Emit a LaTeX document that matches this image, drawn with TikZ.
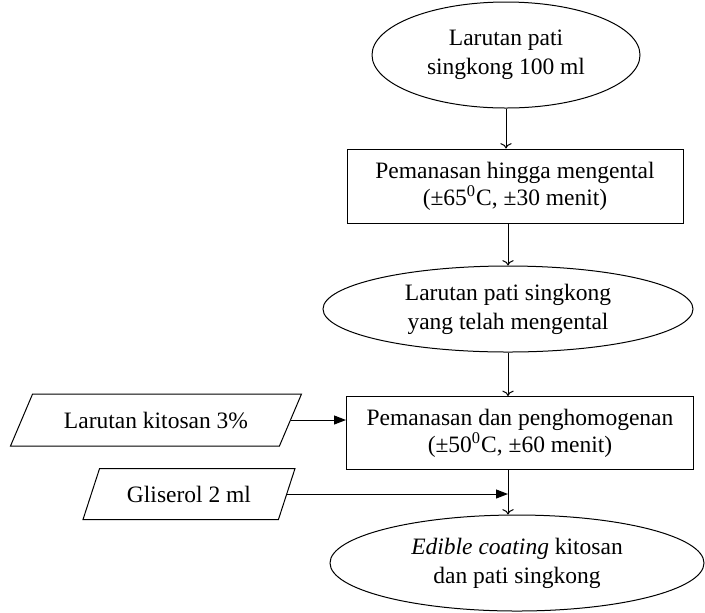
\documentclass[tikz,border=0pt]{standalone}
\usepackage{fontspec}
\setmainfont{Liberation Serif}
\usepackage{tikz}
\usetikzlibrary{shapes.geometric,arrows.meta}

\begin{document}
\begin{tikzpicture}[x=0.5pt,y=-0.5pt,line width=0.5pt,
    font=\fontsize{11.75pt}{13.5pt}\selectfont,
    larutan/.style={draw,ellipse,align=center,inner sep=0pt,font=\fontsize{11.75pt}{14.5pt}\selectfont},
    proses/.style={draw,rectangle,align=center,inner sep=0pt},
    bahan/.style={draw,trapezium,trapezium stretches body=true,text height=8pt,text depth=0pt,inner xsep=0pt}]
    \useasboundingbox (0,0) rectangle (705,612);
    \node[larutan,minimum width=134pt,minimum height=53pt] (1) at (506,55) {Larutan pati\\singkong 100 ml};
    \node[proses,minimum width=168pt,minimum height=37pt] (2) at (515,186) {Pemanasan hingga mengental\\(±65\textsuperscript{0}C, ±30 menit)};
    \node[larutan,minimum width=185pt,minimum height=43pt] (3) at (508,309) {Larutan pati singkong\\yang telah mengental};
    \node[proses,minimum width=173.5pt,minimum height=36.5pt] (4) at (520,433) {Pemanasan dan penghomogenan\\(±50\textsuperscript{0}C, ±60 menit)};
    \node[bahan,trapezium left angle=67,trapezium right angle=113,inner ysep=9pt,minimum width=145.5pt] (5) at (156,420) {Larutan kitosan 3\%};
    \node[bahan,trapezium left angle=72,trapezium right angle=108,inner ysep=8.75pt,minimum width=106pt] (6) at (189,494) {Gliserol 2 ml};
    \node[larutan,minimum width=187pt,minimum height=48pt] (7) at (517,563) {\textit{Edible coating} kitosan\\dan pati singkong};
    \draw[->] (1.south) to (1.south |- 2.north);
    \draw[->] (3.north |- 2.south) to (3.north);
    \draw[->] (3.south) to (3.south |- 4.north);
    \draw[-{Triangle[length=6pt,width=4.5pt]}] (5.east) to (5.east -| 4.west);
    \draw[-{Triangle[length=6pt,width=4.5pt]}] (6.east) to (6.east -| 3.south);
    \draw[->] (3.south |- 4.south) to (3.south |- 7.north);
\end{tikzpicture}
\end{document}
